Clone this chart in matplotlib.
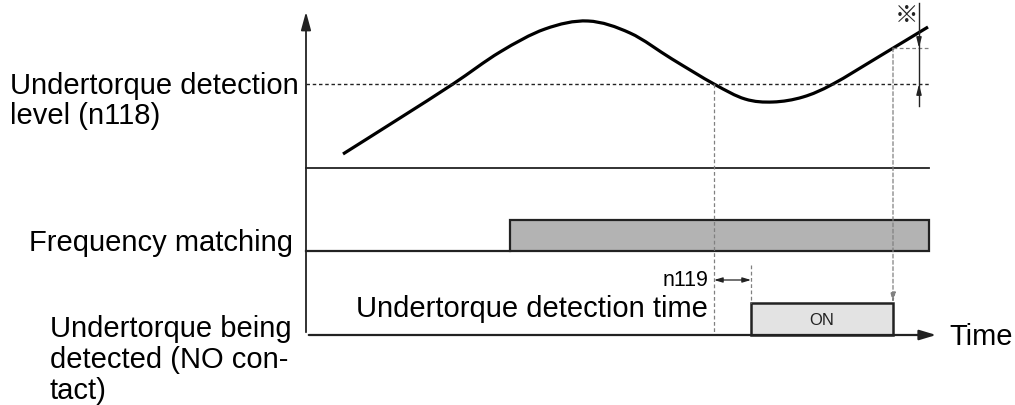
import matplotlib

matplotlib.use("Agg")
import matplotlib.pyplot as plt
from matplotlib.patches import PathPatch, Rectangle
from matplotlib.path import Path

# torque curve (time, level) in drawing units
curve_t = [343, 400, 453, 500, 545, 588, 630, 672, 714, 745, 773, 803, 833, 880, 928]
curve_v = [155, 119, 85, 53, 30, 22, 34, 60, 85, 100, 103, 98, 85, 57, 28]

detect_level = 85        # n118 level
hyst_level = 49          # level where detection is released
t_axis = 306             # time origin
t_end = 929              # end of traces
t_freq_on = 510          # frequency matching starts
t_cross = 714            # torque falls under the level
t_on = 751               # output goes ON after n119
t_off = 893              # output released

torque_base = 169
freq_base, freq_high = 252, 221
out_base, out_high = 336, 304

labels = {
    "level": "Undertorque detection\nlevel (n118)",
    "freq": "Frequency matching",
    "out": "Undertorque being\ndetected (NO con-\ntact)",
    "time": "Time",
    "n119": "n119",
    "dtime": "Undertorque detection time",
}

plt.rcParams["font.family"] = ["Liberation Sans", "DejaVu Sans", "Noto Sans CJK JP"]


def smooth_path(xs, ys):
    # bezier segments through the read points (Catmull-Rom tangents)
    pts = list(zip(xs, ys))
    verts = [pts[0]]
    codes = [Path.MOVETO]
    for i in range(len(pts) - 1):
        p0 = pts[i - 1] if i > 0 else pts[i]
        p1, p2 = pts[i], pts[i + 1]
        p3 = pts[i + 2] if i + 2 < len(pts) else pts[i + 1]
        c1 = (p1[0] + (p2[0] - p0[0]) / 6, p1[1] + (p2[1] - p0[1]) / 6)
        c2 = (p2[0] - (p3[0] - p1[0]) / 6, p2[1] - (p3[1] - p1[1]) / 6)
        verts += [c1, c2, p2]
        codes += [Path.CURVE4] * 3
    return Path(verts, codes)


fig = plt.figure(figsize=(10.15, 4.06), dpi=100)
ax = fig.add_axes([0, 0, 1, 1])
ax.set_xlim(0, 1015)
ax.set_ylim(406, 0)
ax.axis("off")

line_c = "#222222"
dash_c = "#808080"

# vertical axis with arrow
ax.annotate("", xy=(t_axis, 10), xytext=(t_axis, out_base),
            arrowprops=dict(arrowstyle="-|>,head_length=1.1,head_width=0.3", color=line_c, lw=1.3))
# time axis with arrow
ax.annotate("", xy=(939, out_base), xytext=(t_axis, out_base),
            arrowprops=dict(arrowstyle="-|>,head_length=1.0,head_width=0.3", color=line_c, lw=1.6))

# baselines
ax.plot([t_axis, t_end], [torque_base, torque_base], color=line_c, lw=1.3)
ax.plot([t_axis, t_freq_on], [freq_base, freq_base], color=line_c, lw=1.6)

# detection level and hysteresis dotted lines
ax.plot([t_axis, t_end], [detect_level, detect_level], color=line_c, lw=1.0, ls=(0, (2.5, 2)))
ax.plot([t_off, t_end], [hyst_level, hyst_level], color=dash_c, lw=0.9, ls=(0, (3, 2)))

# torque curve
ax.add_patch(PathPatch(smooth_path(curve_t, curve_v), facecolor="none", edgecolor="black",
                       lw=2.3, capstyle="butt"))

# frequency matching pulse
ax.add_patch(Rectangle((t_freq_on, freq_high), t_end - t_freq_on, freq_base - freq_high,
                       facecolor="#b3b3b3", edgecolor=line_c, lw=1.6))

# ON pulse
ax.add_patch(Rectangle((t_on, out_high), t_off - t_on, out_base - out_high,
                       facecolor="#e3e3e3", edgecolor=line_c, lw=1.8))
ax.text((t_on + t_off) / 2, (out_high + out_base) / 2 + 1, "ON", fontsize=12,
        ha="center", va="center", color="#222222")

# dashed guides
ax.plot([t_cross, t_cross], [detect_level, out_base], color=dash_c, lw=0.9, ls=(0, (3, 2)))
ax.plot([t_on, t_on], [266, out_high], color=dash_c, lw=0.9, ls=(0, (3, 2)))
ax.annotate("", xy=(t_off, out_high), xytext=(t_off, hyst_level),
            arrowprops=dict(arrowstyle="-|>,head_length=0.6,head_width=0.15", color=dash_c,
                            lw=0.9, ls=(0, (3, 2)), shrinkA=0, shrinkB=0))

# n119 delay arrow
ax.annotate("", xy=(t_cross, 281), xytext=(t_on, 281),
            arrowprops=dict(arrowstyle="<|-|>,head_length=0.5,head_width=0.15", color=line_c,
                            lw=0.9, shrinkA=0, shrinkB=0))

# hysteresis width marker
ax.plot([919, 919], [4, 107], color=line_c, lw=1.0)
ax.annotate("", xy=(919, hyst_level), xytext=(919, 38),
            arrowprops=dict(arrowstyle="-|>,head_length=0.6,head_width=0.15", color=line_c,
                            lw=1.0, shrinkA=0, shrinkB=0))
ax.annotate("", xy=(919, detect_level), xytext=(919, 96),
            arrowprops=dict(arrowstyle="-|>,head_length=0.6,head_width=0.15", color=line_c,
                            lw=1.0, shrinkA=0, shrinkB=0))
ax.text(907, 16, "※", fontsize=17, ha="center", va="center", color=line_c,
        family=["Noto Sans CJK JP", "DejaVu Sans"])

# labels
big = 21
ax.text(10, 101, labels["level"], fontsize=big, ha="left", va="center", linespacing=1.12)
ax.text(293, 243, labels["freq"], fontsize=big, ha="right", va="center")
ax.text(50, 360, labels["out"], fontsize=big, ha="left", va="center", linespacing=1.15)
ax.text(949, 337, labels["time"], fontsize=big, ha="left", va="center")
ax.text(708, 281, labels["n119"], fontsize=15.5, ha="right", va="center")
ax.text(708, 309, labels["dtime"], fontsize=big, ha="right", va="center")

fig.savefig("out.png", dpi=100, facecolor="white")
